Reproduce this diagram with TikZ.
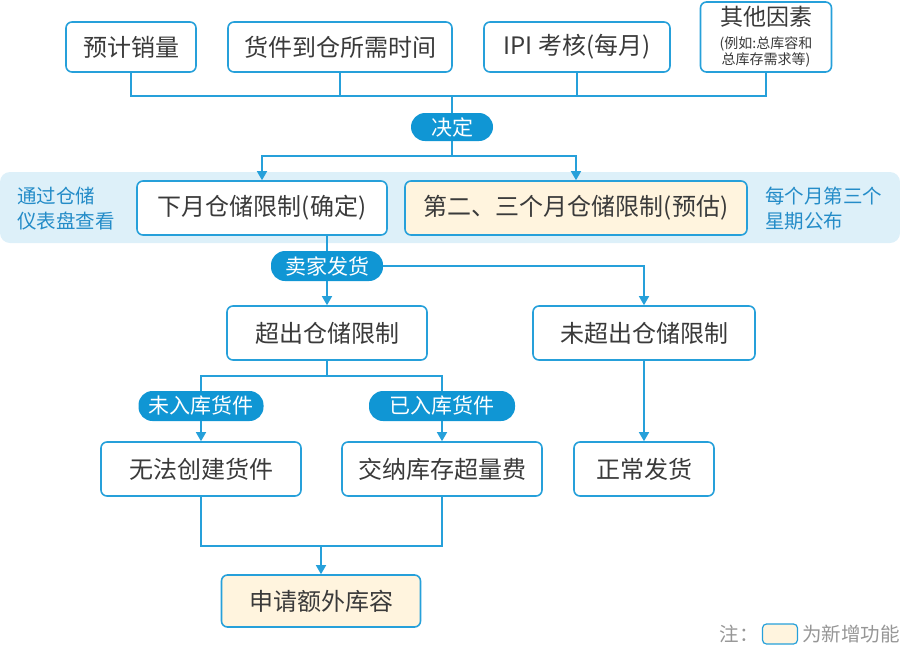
\documentclass[tikz,border=0pt]{standalone}
\usepackage{fontspec}
\setmainfont{Noto Sans CJK SC}
\usetikzlibrary{arrows.meta}
\usetikzlibrary{positioning}

\definecolor{lineblue}{RGB}{38,160,218}
\definecolor{pillblue}{RGB}{16,150,212}
\definecolor{bandblue}{RGB}{221,240,249}
\definecolor{cream}{RGB}{255,244,222}
\definecolor{notetext}{RGB}{36,140,200}
\definecolor{textgray}{RGB}{58,58,58}
\definecolor{legendgray}{RGB}{150,150,150}

\begin{document}
\begin{tikzpicture}[
    x=1pt, y=-1pt,
    font=\fontsize{24}{28}\selectfont
]
\tikzset{
    mybox/.style = {rectangle, rounded corners=6pt, draw=lineblue, line width=1.6pt, fill=white, text=textgray, align=center, minimum height=54pt, inner sep=0pt},
    mynew/.style = {mybox, fill=cream},
    mypill/.style = {rectangle, rounded corners=14pt, fill=pillblue, text=white, minimum height=30pt, inner sep=0pt, font=\fontsize{21}{24}\selectfont},
    mynote/.style = {text=notetext, align=left, anchor=west, inner sep=0pt, font=\fontsize{19.5}{25}\selectfont},
    mylegend/.style = {text=legendgray, inner sep=0pt, font=\fontsize{19.5}{22}\selectfont},
    edgen/.style = {draw=lineblue, line width=1.5pt},
    edgea/.style = {edgen, -{Triangle[width=10pt,length=9pt]}}
}
\useasboundingbox (0,0) rectangle (900,646);
\fill[bandblue, rounded corners=10pt] (0,172) rectangle (900,243);
\node[mynote] at (17,209) (dashboard) {通过仓储\\仪表盘查看};
\node[mynote] at (765,209) (monthly) {每个月第三个\\星期公布};
\node[mybox, minimum width=130pt, minimum height=50pt] at (131,47) (sales) {预计销量};
\node[mybox, minimum width=224pt, minimum height=50pt] at (340,47) (transit) {货件到仓所需时间};
\node[mybox, minimum width=186pt, minimum height=50pt] at (577,47) (ipi) {IPI 考核(每月)};
\node[mybox, minimum width=131pt, minimum height=70pt, font=\fontsize{14}{16}\selectfont] at (766,37) (other) {{\fontsize{23}{16}\selectfont 其他因素}\\[7pt](例如:总库容和\\总库存需求等)};
\node[mypill, minimum width=82pt, minimum height=28pt] at (452,127) (decide) {决定};
\node[mybox, minimum width=250pt] at (262,208) (now) {下月仓储限制(确定)};
\node[mynew, minimum width=342pt] at (576,208) (later) {第二、三个月仓储限制(预估)};
\node[mypill, minimum width=112pt] at (327,266) (ship) {卖家发货};
\node[mybox, minimum width=200pt] at (327,333) (over) {超出仓储限制};
\node[mybox, minimum width=222pt] at (644,333) (under) {未超出仓储限制};
\node[mypill, minimum width=125pt] at (201,406) (notin) {未入库货件};
\node[mypill, minimum width=146pt] at (442,406) (stocked) {已入库货件};
\node[mybox, minimum width=200pt] at (201,469) (fail) {无法创建货件};
\node[mybox, minimum width=200pt] at (442,469) (fee) {交纳库存超量费};
\node[mybox, minimum width=140pt] at (644,469) (normal) {正常发货};
\node[mynew, minimum width=199pt, minimum height=52pt] at (321,601) (apply) {申请额外库容};
\coordinate (topbus) at (452,96);
\coordinate (fork) at (327,376);
\coordinate (merge) at (321,546);
\node[mylegend, anchor=east] at (759,634) (notelbl) {注：};
\node[mynew, minimum width=35pt, minimum height=20pt, rounded corners=4pt, line width=1.2pt] at (780,634) (swatch) {};
\node[mylegend, anchor=west] at (802,634) (legendlbl) {为新增功能};
\draw[edgen] (sales.south) |- (topbus) -| (other.south);
\draw[edgen] (transit.south) -- (transit.south |- topbus);
\draw[edgen] (ipi.south) -- (ipi.south |- topbus);
\draw[edgen] (topbus) -- (decide.north);
\draw[edgea] (decide.south) -- ++(0,15) -| (now.north);
\draw[edgea] (decide.south) -- ++(0,15) -| (later.north);
\draw[edgen] (now.south -| ship) -- (ship.north);
\draw[edgea] (ship.south) -- (over.north);
\draw[edgea] (ship.east) -| (under.north);
\draw[edgen] (over.south) -- (fork) -| (notin.north);
\draw[edgen] (fork) -| (stocked.north);
\draw[edgea] (notin.south) -- (fail.north);
\draw[edgea] (stocked.south) -- (fee.north);
\draw[edgea] (under.south) -- (normal.north);
\draw[edgen] (fail.south) |- (merge) -| (fee.south);
\draw[edgea] (merge) -- (apply.north);
\end{tikzpicture}
\end{document}
